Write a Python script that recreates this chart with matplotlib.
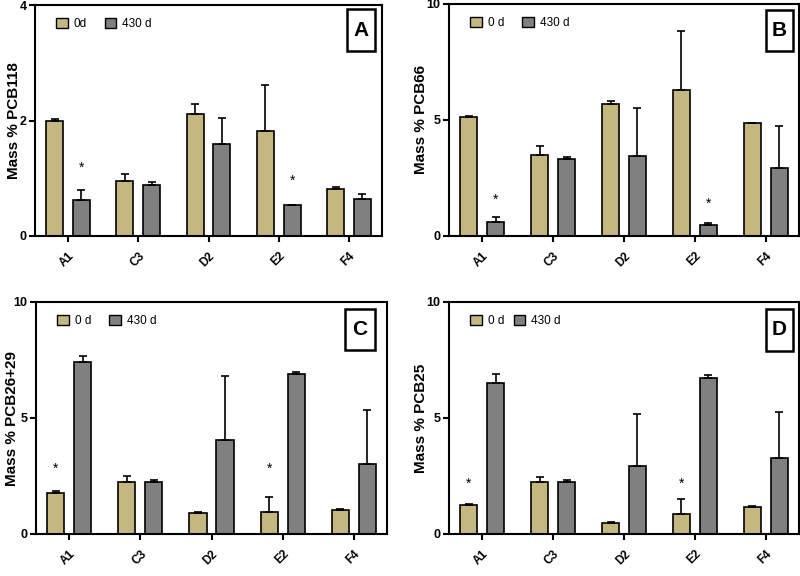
import matplotlib
matplotlib.use('Agg')
import numpy as np
import matplotlib.pyplot as plt
from matplotlib.patches import Patch, Rectangle

plt.rcParams['font.family'] = ['Liberation Sans', 'DejaVu Sans']

sites = ["A1", "C3", "D2", "E2", "F4"]

# panel A - PCB118
a_0d = [2.00, 0.945, 2.11, 1.81, 0.81]
a_0d_err = [0.02, 0.125, 0.18, 0.80, 0.03]
a_430d = [0.63, 0.88, 1.59, 0.53, 0.64]
a_430d_err = [0.16, 0.05, 0.46, 0.015, 0.09]

# panel B - PCB66
b_0d = [5.11, 3.48, 5.70, 6.28, 4.86]
b_0d_err = [0.08, 0.38, 0.13, 2.56, 0.02]
b_430d = [0.59, 3.33, 3.45, 0.49, 2.93]
b_430d_err = [0.24, 0.08, 2.08, 0.06, 1.80]

# panel C - PCB26+29
c_0d = [1.78, 2.24, 0.91, 0.93, 1.02]
c_0d_err = [0.06, 0.25, 0.04, 0.68, 0.06]
c_430d = [7.43, 2.24, 4.07, 6.90, 3.00]
c_430d_err = [0.23, 0.07, 2.75, 0.10, 2.34]

# panel D - PCB25
d_0d = [1.24, 2.23, 0.47, 0.88, 1.16]
d_0d_err = [0.04, 0.23, 0.05, 0.63, 0.06]
d_430d = [6.49, 2.26, 2.93, 6.72, 3.26]
d_430d_err = [0.42, 0.05, 2.24, 0.12, 2.01]

# significance stars (placed over the 0 d or 430 d bar)
a_star = [1.18, None, None, 0.95, None]
b_star = [1.58, None, None, 1.41, None]
c_star = [2.80, None, None, 2.80, None]
d_star = [2.16, None, None, 2.16, None]

TAN = '#c4b77f'
GREY = '#808080'

panels = [
    # letter, ylabel, ymax, yticks, 0d, err, 430d, err, legend label, star series, stars,
    # axes rect (px), ylabel x (axes), letter box (axes)
    ("A", "Mass % PCB118", 4, [0, 2, 4], a_0d, a_0d_err, a_430d, a_430d_err,
     "0d", 1, a_star, [35, 5, 382, 236], -0.040, [0.899, 0.80, 0.980, 0.983]),
    ("B", "Mass % PCB66", 10, [0, 5, 10], b_0d, b_0d_err, b_430d, b_430d_err,
     "0 d", 1, b_star, [449, 4, 799, 236], -0.060, [0.906, 0.797, 0.983, 0.974]),
    ("C", "Mass % PCB26+29", 10, [0, 5, 10], c_0d, c_0d_err, c_430d, c_430d_err,
     "0 d", 0, c_star, [36, 302, 387, 534], -0.048, [0.880, 0.793, 0.966, 0.970]),
    ("D", "Mass % PCB25", 10, [0, 5, 10], d_0d, d_0d_err, d_430d, d_430d_err,
     "0 d", 0, d_star, [449, 302, 799, 534], -0.060, [0.906, 0.789, 0.983, 0.970]),
]

W, H = 800, 576
fig = plt.figure(figsize=(8, 5.76), dpi=100)

x = np.arange(len(sites))
barwidth = 0.24
off = 0.19

for (letter, ylabel, ymax, yticks, v0, e0, v1, e1, lab0, starser, stary,
     rect, labx, box) in panels:
    l, t, r, b = rect
    ax = fig.add_axes([l / W, 1 - b / H, (r - l) / W, (b - t) / H])

    ekw = dict(elinewidth=1.2, capthick=1.2, ecolor='black')
    ax.bar(x - off, v0, barwidth, color=TAN, edgecolor='black', linewidth=1.2,
           yerr=[np.zeros(len(v0)), e0], capsize=3, error_kw=ekw, zorder=2)
    ax.bar(x + off, v1, barwidth, color=GREY, edgecolor='black', linewidth=1.2,
           yerr=[np.zeros(len(v1)), e1], capsize=3, error_kw=ekw, zorder=2)

    sx = x - off if starser == 0 else x + off
    for xi, sy in zip(sx, stary):
        if sy is not None:
            ax.text(xi, sy, "*", ha='center', va='center', fontsize=10)

    ax.set_xlim(-0.47, 4.47)
    ax.set_ylim(0, ymax)
    ax.set_yticks(yticks)
    ax.set_yticklabels([str(v) for v in yticks], fontsize=9, fontweight='bold')
    ax.set_xticks(x)
    ax.set_xticklabels(sites, rotation=45, fontsize=8.5, fontweight='bold',
                       ha='right', rotation_mode='anchor')
    ax.tick_params(axis='both', direction='out', length=4, width=1.5, pad=2)
    ax.tick_params(axis='x', pad=6)
    for s in ax.spines.values():
        s.set_linewidth(1.5)
    ax.set_ylabel(ylabel, fontsize=11, fontweight='bold')
    ax.yaxis.set_label_coords(labx, 0.5)

    handles = [Patch(facecolor=TAN, edgecolor='black', linewidth=1),
               Patch(facecolor=GREY, edgecolor='black', linewidth=1)]
    ax.legend(handles, [lab0, "430 d"], loc='upper left', ncol=2, frameon=False,
              fontsize=8.5, handlelength=1.0, handleheight=0.9, handletextpad=0.5,
              columnspacing=1.5 if letter != "D" else 0.8,
              bbox_to_anchor=(0.03, 0.99))

    bx0, by0, bx1, by1 = box
    ax.add_patch(Rectangle((bx0, by0), bx1 - bx0, by1 - by0, transform=ax.transAxes,
                           facecolor='white', edgecolor='black', linewidth=1.8,
                           zorder=5))
    ax.text((bx0 + bx1) / 2, (by0 + by1) / 2, letter, transform=ax.transAxes,
            ha='center', va='center', fontsize=15, fontweight='bold', zorder=6)

fig.savefig('out.png', dpi=100)
